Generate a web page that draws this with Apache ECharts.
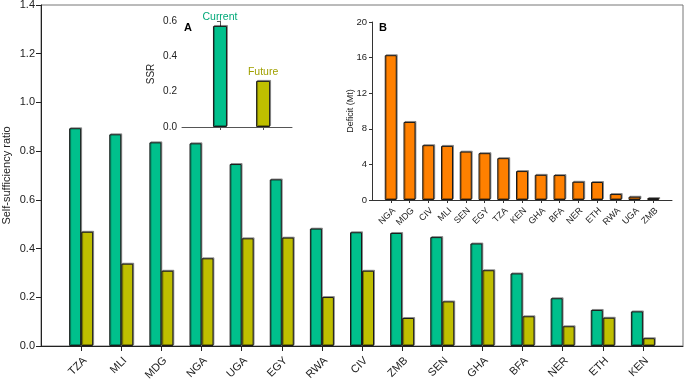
<!DOCTYPE html>
<html>
<head>
<meta charset="utf-8">
<script src="https://cdn.jsdelivr.net/npm/echarts@6/dist/echarts.min.js"></script>
<style>
  html, body { margin: 0; padding: 0; background: #fff; }
  #chart { width: 685px; height: 379px; }
</style>
</head>
<body>
<div id="chart"></div>
<script>
// main panel: self-sufficiency ratio per country
const countries = ['TZA', 'MLI', 'MDG', 'NGA', 'UGA', 'EGY', 'RWA', 'CIV', 'ZMB', 'SEN', 'GHA', 'BFA', 'NER', 'ETH', 'KEN'];
const currentSSR = [0.894, 0.869, 0.836, 0.832, 0.747, 0.684, 0.482, 0.467, 0.464, 0.447, 0.421, 0.298, 0.196, 0.148, 0.142];
const futureSSR = [0.469, 0.338, 0.309, 0.360, 0.442, 0.445, 0.201, 0.309, 0.115, 0.183, 0.311, 0.122, 0.081, 0.116, 0.032];

// inset A: overall SSR
const periods = ['Current', 'Future'];
const overallSSR = [0.572, 0.261];

// inset B: deficit by country
const deficitCountries = ['NGA', 'MDG', 'CIV', 'MLI', 'SEN', 'EGY', 'TZA', 'KEN', 'GHA', 'BFA', 'NER', 'ETH', 'RWA', 'UGA', 'ZMB'];
const deficitMt = [16.27, 8.77, 6.16, 6.08, 5.44, 5.26, 4.70, 3.25, 2.83, 2.80, 2.05, 2.02, 0.67, 0.37, 0.22];

const GREEN = '#00c08c';
const OLIVE = '#bfbf00';
const ORANGE = '#ff8000';
const INK = '#222';
const FONT = 'Liberation Sans, Arial, sans-serif';

// empty slots at both ends give the padding around the bars
const pad = arr => [''].concat(arr, ['']);
const padNull = arr => [null].concat(arr, [null]);

const barStyle = color => ({
    color: color,
    borderColor: '#1a1a1a',
    borderWidth: 1,
    shadowColor: 'rgba(0,0,0,0.35)',
    shadowOffsetX: 1,
    shadowOffsetY: -1,
});

const chart = echarts.init(document.getElementById('chart'), null, { renderer: 'canvas' });

const option = {
    animation: false,
    textStyle: { fontFamily: FONT, color: INK },
    title: [
        { text: 'A', left: 184, top: 22, padding: 0, textStyle: { fontSize: 11, fontWeight: 'bold', color: '#000', fontFamily: FONT } },
        { text: 'B', left: 379, top: 22, padding: 0, textStyle: { fontSize: 11, fontWeight: 'bold', color: '#000', fontFamily: FONT } },
    ],
    grid: [
        { left: 41, right: 2, top: 5, bottom: 33, outerBoundsMode: 'none', containLabel: false, show: true, borderColor: '#777', borderWidth: 1, backgroundColor: 'transparent' },
        { left: 182, top: 21, width: 110, height: 106, outerBoundsMode: 'none', containLabel: false },
        { left: 372, top: 22, width: 300, height: 178, outerBoundsMode: 'none', containLabel: false },
    ],
    xAxis: [
        {
            gridIndex: 0,
            type: 'category',
            data: pad(countries),
            boundaryGap: false,
            axisLine: { lineStyle: { color: INK, width: 1 } },
            axisTick: { length: 5, lineStyle: { color: INK }, interval: (i, v) => v !== '' },
            axisLabel: { interval: 0, rotate: 45, fontSize: 11, color: INK, margin: 9, verticalAlign: 'top', fontFamily: FONT },
            splitLine: { show: false },
        },
        {
            gridIndex: 1,
            type: 'value',
            min: -0.88,
            max: 1.67,
            axisLine: { onZero: false, lineStyle: { color: '#555', width: 1 } },
            axisTick: { length: 3, lineStyle: { color: '#555' }, customValues: [0, 1] },
            axisLabel: { show: false },
            splitLine: { show: false },
        },
        {
            gridIndex: 2,
            type: 'category',
            data: pad(deficitCountries),
            boundaryGap: false,
            axisLine: { lineStyle: { color: '#333', width: 1 } },
            axisTick: { length: 3, lineStyle: { color: '#333' }, interval: (i, v) => v !== '' },
            axisLabel: { interval: 0, rotate: 45, fontSize: 9, color: INK, margin: 6, verticalAlign: 'top', fontFamily: FONT },
            splitLine: { show: false },
        },
    ],
    yAxis: [
        {
            gridIndex: 0,
            type: 'value',
            min: 0,
            max: 1.4,
            interval: 0.2,
            name: 'Self-sufficiency ratio',
            nameLocation: 'middle',
            nameGap: 29,
            nameMoveOverlap: false,
            nameTextStyle: { fontSize: 11, color: INK, fontFamily: FONT },
            axisLine: { show: true, lineStyle: { color: INK } },
            axisTick: { show: true, length: 5, lineStyle: { color: INK } },
            axisLabel: { fontSize: 11, color: INK, margin: 6, formatter: v => v.toFixed(1), fontFamily: FONT },
            splitLine: { show: false },
        },
        {
            gridIndex: 1,
            type: 'value',
            min: 0,
            max: 0.6,
            interval: 0.2,
            name: 'SSR',
            nameLocation: 'middle',
            nameGap: 26,
            nameMoveOverlap: false,
            nameTextStyle: { fontSize: 10, color: INK, fontFamily: FONT },
            axisLine: { show: true, lineStyle: { color: '#555' } },
            axisTick: { show: true, length: 3, lineStyle: { color: '#555' } },
            axisLabel: { fontSize: 10, color: INK, margin: 5, formatter: v => v.toFixed(1), fontFamily: FONT },
            splitLine: { show: false },
        },
        {
            gridIndex: 2,
            type: 'value',
            min: 0,
            max: 20,
            interval: 4,
            name: 'Deficit (Mt)',
            nameLocation: 'middle',
            nameGap: 17,
            nameMoveOverlap: false,
            nameTextStyle: { fontSize: 9, color: INK, fontFamily: FONT },
            axisLine: { show: true, lineStyle: { color: '#333' } },
            axisTick: { show: true, length: 3, lineStyle: { color: '#333' } },
            axisLabel: { fontSize: 9.5, color: INK, margin: 5, fontFamily: FONT },
            splitLine: { show: false },
        },
    ],
    series: [
        {
            name: 'Current',
            type: 'bar',
            xAxisIndex: 0,
            yAxisIndex: 0,
            data: padNull(currentSSR),
            barWidth: 12,
            barGap: '0%',
            itemStyle: barStyle(GREEN),
        },
        {
            name: 'Future',
            type: 'bar',
            xAxisIndex: 0,
            yAxisIndex: 0,
            data: padNull(futureSSR),
            barWidth: 12,
            barGap: '0%',
            itemStyle: barStyle(OLIVE),
        },
        {
            name: 'Overall',
            type: 'bar',
            xAxisIndex: 1,
            yAxisIndex: 1,
            barWidth: 14,
            data: overallSSR.map((v, i) => ({
                value: [i, v],
                name: periods[i],
                itemStyle: barStyle(i === 0 ? GREEN : OLIVE),
                label: { color: i === 0 ? '#00a878' : '#a0a000' },
            })),
            label: {
                show: true,
                position: 'top',
                distance: 3,
                fontSize: 10.5,
                fontFamily: FONT,
                formatter: p => p.name,
            },
        },
        {
            name: 'Deficit',
            type: 'bar',
            xAxisIndex: 2,
            yAxisIndex: 2,
            data: padNull(deficitMt),
            barWidth: 12,
            itemStyle: barStyle(ORANGE),
        },
    ],
};

chart.setOption(option);
</script>
</body>
</html>
